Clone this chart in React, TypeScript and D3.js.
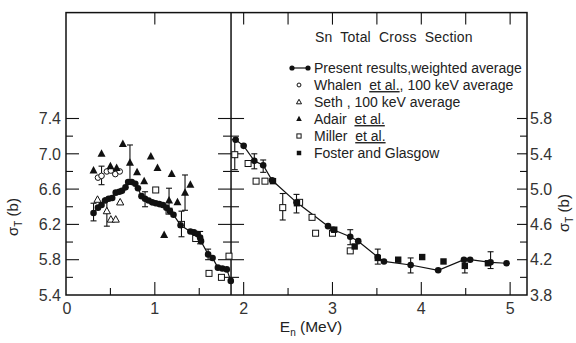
import React from "react";
import * as d3 from "d3";

// ---- data (energy in MeV, cross section in barns) ----
// Left panel values are on the left axis scale; right panel values on the right axis scale.
const presentLeftE = [0.31,0.36,0.40,0.44,0.48,0.52,0.56,0.60,0.63,0.67,0.70,0.74,0.78,0.81,0.85,0.89,0.93,0.97,1.01,1.05,1.09,1.13,1.17,1.21,1.29,1.40,1.44,1.48,1.51,1.52,1.60,1.65,1.71,1.76,1.81,1.855];
const presentLeftS = [6.33,6.39,6.42,6.47,6.49,6.50,6.56,6.57,6.58,6.62,6.68,6.68,6.66,6.61,6.52,6.49,6.47,6.45,6.44,6.43,6.42,6.39,6.35,6.31,6.19,6.12,6.11,6.09,6.05,6.01,5.86,5.82,5.71,5.70,5.69,5.56];
const presentLeftErr = [[0.31,6.24,6.44],[0.89,6.40,6.57],[1.51,5.98,6.12],[1.60,5.80,5.92]];

const whalenE = [0.36,0.40,0.46,0.505,0.555,0.605];
const whalenS = [6.73,6.75,6.80,6.81,6.77,6.80];
const whalenErr = [[0.40,6.65,6.86]];

const sethE = [0.355,0.46,0.505,0.56,0.61];
const sethS = [6.48,6.35,6.255,6.255,6.45];
const sethErr = [[0.46,6.18,6.50]];

const adairE = [0.31,0.40,0.50,0.57,0.64,0.72,0.80,0.88,0.955,1.03,1.105,1.16,1.19,1.255,1.34,1.40];
const adairS = [6.81,7.00,6.86,6.84,7.11,6.90,6.79,6.69,6.97,6.84,6.08,6.47,6.77,6.45,6.56,6.65];
const adairErr = [[0.72,6.70,7.10],[1.16,6.33,6.61],[1.34,6.36,6.76]];

const millerLeftE = [1.01,1.16,1.30,1.46,1.61,1.75,1.835];
const millerLeftS = [6.59,6.35,6.20,6.04,5.645,5.60,5.84];
const millerLeftErr = [[1.30,6.06,6.35]];

const presentRightE = [1.91,2.00,2.12,2.22,2.32,2.595,2.95,3.01,3.20,3.29,3.51,3.58,3.88,4.19,4.48,4.55,4.78,4.96];
const presentRightS = [5.56,5.49,5.32,5.27,5.10,4.85,4.58,4.54,4.46,4.41,4.23,4.18,4.14,4.08,4.20,4.20,4.17,4.16];
const presentRightErr = [[2.12,5.23,5.40],[2.22,5.19,5.33],[2.595,4.73,4.94],[3.20,4.37,4.54],[3.51,4.15,4.32],[3.88,4.05,4.22],[4.78,4.10,4.29]];

const millerRightE = [1.90,2.05,2.14,2.24,2.44,2.63,2.77,2.81,3.00,3.20];
const millerRightS = [5.39,5.29,5.09,5.09,4.79,4.85,4.68,4.50,4.50,4.30];
const millerRightErr = [[1.90,5.22,5.56],[2.44,4.65,4.95]];

const fosterE = [2.33,2.60,3.02,3.25,3.51,3.74,4.01,4.25,4.49,4.75];
const fosterS = [5.09,4.84,4.54,4.35,4.22,4.20,4.23,4.18,4.13,4.16];
const fosterErr = [[4.49,4.05,4.21]];

const leftTickLabels = ["5.4","5.8","6.2","6.6","7.0","7.4"];
const rightTickLabels = ["3.8","4.2","4.6","5.0","5.4","5.8"];
const xTickLabels = ["0","1","2","3","4","5"];
const legendTitle = "Sn Total Cross Section";
const divideE = 1.858;

const FONT = "'Liberation Sans', Arial, sans-serif";

const x = d3.scaleLinear().domain([0, 5.19]).range([66, 527]);
const yL = d3.scaleLinear().domain([5.4, 8.6]).range([295, 12.6]);
const yR = d3.scaleLinear().domain([3.8, 7.0]).range([295, 12.6]);

type Sc = d3.ScaleLinear<number, number>;

function pts(E: number[], S: number[]) {
  return E.map((e, i) => [e, S[i]] as [number, number]);
}

function Marker({ kind, cx, cy, s = 1 }: { kind: string; cx: number; cy: number; s?: number }) {
  switch (kind) {
    case "fc":
      return <circle cx={cx} cy={cy} r={3.3 * s} fill="#111" />;
    case "oc":
      return <circle cx={cx} cy={cy} r={2.8 * s} fill="#fff" stroke="#111" strokeWidth={1} />;
    case "ot": {
      const h = 6.5 * s, w = 3.6 * s;
      return <path d={`M${cx},${cy - h * 0.6}L${cx + w},${cy + h * 0.4}L${cx - w},${cy + h * 0.4}Z`} fill="#fff" stroke="#111" strokeWidth={1} />;
    }
    case "ft": {
      const h = 7.5 * s, w = 4 * s;
      return <path d={`M${cx},${cy - h * 0.6}L${cx + w},${cy + h * 0.4}L${cx - w},${cy + h * 0.4}Z`} fill="#111" />;
    }
    case "os": {
      const a = 3 * s;
      return <rect x={cx - a} y={cy - a} width={2 * a} height={2 * a} fill="#fff" stroke="#111" strokeWidth={1} />;
    }
    case "fs": {
      const a = 3.2 * s;
      return <rect x={cx - a} y={cy - a} width={2 * a} height={2 * a} fill="#111" />;
    }
  }
  return null;
}

function Series({ E, S, y, kind, err }: { E: number[]; S: number[]; y: Sc; kind: string; err?: number[][] }) {
  return (
    <g>
      {(err || []).map((e, i) => (
        <g key={"e" + i} stroke="#111" strokeWidth={1.1}>
          <line x1={x(e[0])} x2={x(e[0])} y1={y(e[1])} y2={y(e[2])} />
          <line x1={x(e[0]) - 3} x2={x(e[0]) + 3} y1={y(e[1])} y2={y(e[1])} />
          <line x1={x(e[0]) - 3} x2={x(e[0]) + 3} y1={y(e[2])} y2={y(e[2])} />
        </g>
      ))}
      {pts(E, S).map((p, i) => (
        <Marker key={i} kind={kind} cx={x(p[0])} cy={y(p[1])} />
      ))}
    </g>
  );
}

export default function App() {
  const line = (y: Sc) => d3.line<[number, number]>().x((d) => x(d[0])).y((d) => y(d[1]));
  const xL = x.range()[0], xRt = x.range()[1], yTop = yL.range()[1], yBot = yL.range()[0];
  const xD = x(divideE);

  const yTicksL = d3.range(5.6, 7.41, 0.2);
  const yTicksR = d3.range(4.0, 5.81, 0.2);
  const isMajorL = (v: number) => leftTickLabels.some((t) => Math.abs(+t - v) < 1e-6);
  const isMajorR = (v: number) => rightTickLabels.some((t) => Math.abs(+t - v) < 1e-6);
  const bottomTicks = d3.range(0.5, 5.01, 0.5);
  const topTicks = [1, 2, 2.5, 3, 3.5, 4, 4.5, 5];

  const legendRows: { kind: string; parts: { t: string; u?: boolean }[] }[] = [
    { kind: "line", parts: [{ t: "Present results,weighted average" }] },
    { kind: "oc", parts: [{ t: "Whalen  " }, { t: "et al.", u: true }, { t: ", 100 keV average" }] },
    { kind: "ot", parts: [{ t: "Seth , 100 keV average" }] },
    { kind: "ft", parts: [{ t: "Adair  " }, { t: "et al.", u: true }] },
    { kind: "os", parts: [{ t: "Miller  " }, { t: "et al.", u: true }] },
    { kind: "fs", parts: [{ t: "Foster and Glasgow" }] },
  ];

  return (
    <svg width={576} height={343} style={{ position: "absolute", left: 0, top: 0, background: "#fff" }} fontFamily={FONT}>
      {/* frame */}
      <rect x={xL} y={yTop} width={xRt - xL} height={yBot - yTop} fill="none" stroke="#111" strokeWidth={1.5} />
      <line x1={xD} x2={xD} y1={yTop} y2={yBot} stroke="#111" strokeWidth={1.5} />

      {/* left axis ticks */}
      {yTicksL.map((v, i) => (
        <line key={"tl" + i} x1={xL} x2={xL + (isMajorL(v) ? 13 : 7)} y1={yL(v)} y2={yL(v)} stroke="#111" strokeWidth={1.1} />
      ))}
      {/* divider ticks */}
      {yTicksL.map((v, i) => {
        const len = isMajorL(v) ? 13 : 8;
        return <line key={"td" + i} x1={xD - len} x2={xD + len} y1={yL(v)} y2={yL(v)} stroke="#111" strokeWidth={1.1} />;
      })}
      {/* right axis ticks */}
      {yTicksR.map((v, i) => (
        <line key={"tr" + i} x1={xRt - (isMajorR(v) ? 10 : 7)} x2={xRt} y1={yR(v)} y2={yR(v)} stroke="#111" strokeWidth={1.1} />
      ))}
      {/* bottom ticks */}
      {bottomTicks.map((v, i) => {
        const major = Math.abs(v - Math.round(v)) < 1e-6;
        return <line key={"tb" + i} x1={x(v)} x2={x(v)} y1={yBot} y2={yBot - (major ? 13 : 7)} stroke="#111" strokeWidth={1.1} />;
      })}
      {/* top ticks */}
      {topTicks.map((v, i) => (
        <line key={"tt" + i} x1={x(v)} x2={x(v)} y1={yTop} y2={yTop + 12} stroke="#111" strokeWidth={1.1} />
      ))}

      {/* tick labels */}
      {leftTickLabels.map((t) => (
        <text key={"ll" + t} x={61} y={yL(+t)} dy="0.36em" textAnchor="end" fontSize={16} fill="#333">{t}</text>
      ))}
      {rightTickLabels.map((t) => (
        <text key={"rl" + t} x={530} y={yR(+t)} dy="0.36em" textAnchor="start" fontSize={16} fill="#333">{t}</text>
      ))}
      {xTickLabels.map((t) => (
        <text key={"xl" + t} x={x(+t) + (t === "0" ? 1 : 0)} y={314} textAnchor="middle" fontSize={16} fill="#333">{t}</text>
      ))}

      {/* axis titles */}
      <text transform={`translate(18,217) rotate(-90)`} textAnchor="middle" fontSize={15} fill="#222">
        σ<tspan fontSize={10} dy={4}>T</tspan><tspan dy={-4}> (b)</tspan>
      </text>
      <text transform={`translate(569,213) rotate(-90)`} textAnchor="middle" fontSize={15} fill="#222">
        σ<tspan fontSize={10} dy={4}>T</tspan><tspan dy={-4}> (b)</tspan>
      </text>
      <text x={311} y={332} textAnchor="middle" fontSize={15.5} fill="#222">
        E<tspan fontSize={10} dy={4}>n</tspan><tspan dy={-4}> (MeV)</tspan>
      </text>

      {/* lines */}
      <path d={line(yL)(pts(presentLeftE, presentLeftS)) || ""} fill="none" stroke="#111" strokeWidth={1.2} />
      <path d={line(yR)(pts(presentRightE, presentRightS)) || ""} fill="none" stroke="#111" strokeWidth={1.2} />

      {/* left panel series */}
      <Series E={sethE} S={sethS} y={yL} kind="ot" err={sethErr} />
      <Series E={whalenE} S={whalenS} y={yL} kind="oc" err={whalenErr} />
      <Series E={adairE} S={adairS} y={yL} kind="ft" err={adairErr} />
      <Series E={millerLeftE} S={millerLeftS} y={yL} kind="os" err={millerLeftErr} />
      <Series E={presentLeftE} S={presentLeftS} y={yL} kind="fc" err={presentLeftErr} />

      {/* right panel series */}
      <Series E={millerRightE} S={millerRightS} y={yR} kind="os" err={millerRightErr} />
      <Series E={fosterE} S={fosterS} y={yR} kind="fs" err={fosterErr} />
      <Series E={presentRightE} S={presentRightS} y={yR} kind="fc" err={presentRightErr} />

      {/* legend */}
      <text x={315} y={42} fontSize={14} fill="#222" wordSpacing={4} letterSpacing={0.2}>{legendTitle}</text>
      {legendRows.map((r, i) => {
        const cy = 68 + i * 17;
        return (
          <g key={"lg" + i}>
            {r.kind === "line" ? (
              <g>
                <line x1={292} x2={308} y1={cy} y2={cy} stroke="#111" strokeWidth={1.2} />
                <circle cx={292} cy={cy} r={2.6} fill="#111" />
                <circle cx={308} cy={cy} r={2.6} fill="#111" />
              </g>
            ) : (
              <Marker kind={r.kind} cx={299} cy={cy} s={0.7} />
            )}
            <text x={314} y={cy} dy="0.36em" fontSize={14} fill="#222" style={{ whiteSpace: "pre" }}>
              {r.parts.map((p, j) => (
                <tspan key={j} textDecoration={p.u ? "underline" : undefined}>{p.t}</tspan>
              ))}
            </text>
          </g>
        );
      })}
    </svg>
  );
}
